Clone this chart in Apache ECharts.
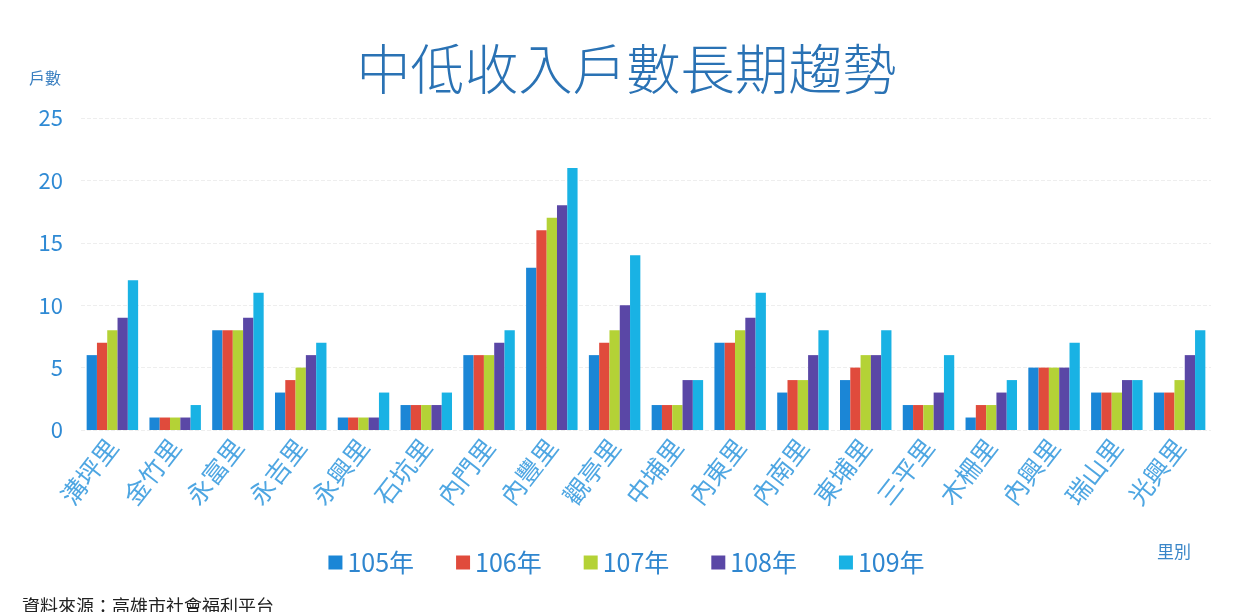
<!DOCTYPE html>
<html>
<head>
<meta charset="utf-8">
<script src="https://cdn.jsdelivr.net/npm/echarts@6/dist/echarts.min.js"></script>
<style>
    html, body { margin: 0; padding: 0; background: #ffffff; }
    #chart { width: 1253px; height: 612px; }
</style>
</head>
<body>
<div id="chart"></div>
<script>
// villages (categories)
const villages = ['溝坪里', '金竹里', '永富里', '永吉里', '永興里', '石坑里', '內門里', '內豐里', '觀亭里',
    '中埔里', '內東里', '內南里', '東埔里', '三平里', '木柵里', '內興里', '瑞山里', '光興里'];

// yearly household counts
const y105 = [6, 1, 8, 3, 1, 2, 6, 13, 6, 2, 7, 3, 4, 2, 1, 5, 3, 3];
const y106 = [7, 1, 8, 4, 1, 2, 6, 16, 7, 2, 7, 4, 5, 2, 2, 5, 3, 3];
const y107 = [8, 1, 8, 5, 1, 2, 6, 17, 8, 2, 8, 4, 6, 2, 2, 5, 3, 4];
const y108 = [9, 1, 9, 6, 1, 2, 7, 18, 10, 4, 9, 6, 6, 3, 3, 5, 4, 6];
const y109 = [12, 2, 11, 7, 3, 3, 8, 21, 14, 4, 11, 8, 8, 6, 4, 7, 4, 8];

const yearNames = ['105年', '106年', '107年', '108年', '109年'];
const yearData = [y105, y106, y107, y108, y109];
const colors = ['#1b86d6', '#e04b3c', '#b4d236', '#5a47a6', '#19b2e4'];

const chart = echarts.init(document.getElementById('chart'));

let option = {
    backgroundColor: '#ffffff',
    color: colors,
    textStyle: {
        fontFamily: '"Noto Sans CJK TC", "Noto Sans", sans-serif'
    },
    title: {
        text: '中低收入戶數長期趨勢',
        left: 'center',
        top: 37,
        textStyle: {
            fontSize: 54,
            fontWeight: 300,
            color: '#2a72b4'
        }
    },
    legend: {
        top: 545,
        left: 'center',
        icon: 'rect',
        itemWidth: 14,
        itemHeight: 14,
        itemGap: 42,
        selectedMode: false,
        textStyle: {
            fontSize: 25,
            color: '#2f86cf'
        }
    },
    grid: {
        left: 81,
        right: 42,
        top: 118,
        bottom: 182
    },
    xAxis: {
        type: 'category',
        data: villages,
        axisLine: { show: false },
        axisTick: { show: false },
        axisLabel: {
            rotate: 52,
            interval: 0,
            margin: 12,
            fontSize: 25,
            color: '#4ea6e2'
        }
    },
    yAxis: {
        type: 'value',
        min: 0,
        max: 25,
        interval: 5,
        name: '戶數',
        nameLocation: 'end',
        nameGap: 32,
        nameTextStyle: {
            fontSize: 16,
            color: '#3a7fc0',
            align: 'left',
            padding: [0, 0, 0, -52]
        },
        axisLabel: {
            fontSize: 22,
            color: '#2f8ad4',
            margin: 18
        },
        splitLine: {
            lineStyle: { color: '#eeeeee', width: 1, type: 'dashed' }
        }
    },
    series: yearData.map((data, index) => {
        return {
            name: yearNames[index],
            type: 'bar',
            data: data,
            barGap: '0%',
            barCategoryGap: '18%'
        };
    }),
    graphic: [
        {
            type: 'text',
            left: 1157,
            top: 543,
            style: {
                text: '里別',
                fontSize: 17,
                fill: '#3a86c8',
                fontFamily: '"Noto Sans CJK TC", sans-serif'
            }
        },
        {
            type: 'text',
            left: 22,
            top: 597,
            style: {
                text: '資料來源：高雄市社會福利平台',
                fontSize: 18,
                fill: '#222222',
                fontFamily: '"Noto Sans CJK TC", sans-serif'
            }
        }
    ]
};

chart.setOption(option);
</script>
</body>
</html>
